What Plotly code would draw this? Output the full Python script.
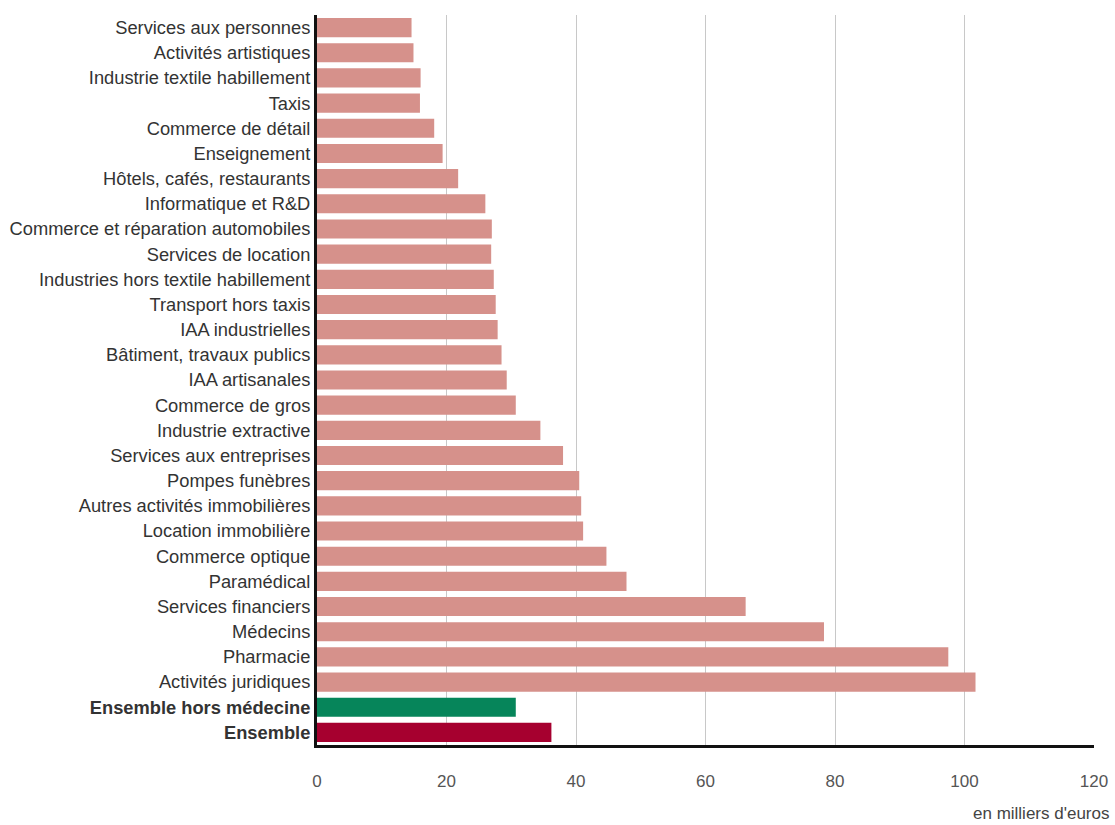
import plotly.graph_objects as go

categories = [
    "Services aux personnes",
    "Activités artistiques",
    "Industrie textile habillement",
    "Taxis",
    "Commerce de détail",
    "Enseignement",
    "Hôtels, cafés, restaurants",
    "Informatique et R&D",
    "Commerce et réparation automobiles",
    "Services de location",
    "Industries hors textile habillement",
    "Transport hors taxis",
    "IAA industrielles",
    "Bâtiment, travaux publics",
    "IAA artisanales",
    "Commerce de gros",
    "Industrie extractive",
    "Services aux entreprises",
    "Pompes funèbres",
    "Autres activités immobilières",
    "Location immobilière",
    "Commerce optique",
    "Paramédical",
    "Services financiers",
    "Médecins",
    "Pharmacie",
    "Activités juridiques",
    "Ensemble hors médecine",
    "Ensemble",
]
values = [14.6, 14.9, 16.0, 15.9, 18.1, 19.4, 21.8, 26.0, 27.0, 26.9, 27.3, 27.6,
          27.9, 28.5, 29.3, 30.7, 34.5, 38.0, 40.5, 40.8, 41.1, 44.7, 47.8, 66.2,
          78.3, 97.5, 101.7, 30.7, 36.2]
x_ticks = [0, 20, 40, 60, 80, 100, 120]
unit_label = "en milliers d'euros"

SALMON = "#d6918b"
GREEN = "#06855a"
DARKRED = "#a6002f"
special = {"Ensemble hors médecine": GREEN, "Ensemble": DARKRED}
colors = [special.get(c, SALMON) for c in categories]
ticktext = [f"<b>{c}</b>" if c in special else c for c in categories]

FONT = "Liberation Sans, Arial, sans-serif"

fig = go.Figure(go.Bar(
    x=values, y=categories, orientation="h",
    marker=dict(color=colors, line=dict(width=0)),
))

fig.update_layout(
    width=1115, height=825,
    margin=dict(l=317, r=21, t=15, b=80),
    paper_bgcolor="white", plot_bgcolor="white",
    bargap=0.24,
    showlegend=False,
    font=dict(family=FONT, color="#333333"),
    xaxis=dict(
        range=[0, 120], tickvals=x_ticks, ticktext=[str(t) for t in x_ticks],
        showgrid=True, gridcolor="#c8c8c8", gridwidth=1,
        zeroline=False, showline=True, linecolor="#111111", linewidth=3,
        ticks="", ticklabelstandoff=19, automargin=False,
        tickfont=dict(family=FONT, size=17, color="#555555"),
    ),
    yaxis=dict(
        autorange="reversed", tickvals=categories, ticktext=ticktext,
        showgrid=False, zeroline=False, showline=True, automargin=False,
        linecolor="#111111", linewidth=3, ticks="", ticklabelstandoff=0,
        tickfont=dict(family=FONT, size=18.3, color="#333333"),
    ),
    annotations=[dict(
        text=unit_label, xref="paper", yref="paper", x=1.0, y=0,
        xanchor="right", yanchor="top", yshift=-57, xshift=17, showarrow=False,
        font=dict(family=FONT, size=17, color="#444444"),
    )],
)

fig.write_html(
    "out.html",
    config={"displayModeBar": False},
    post_script="document.body.style.margin='0';document.body.style.overflow='hidden';",
)
